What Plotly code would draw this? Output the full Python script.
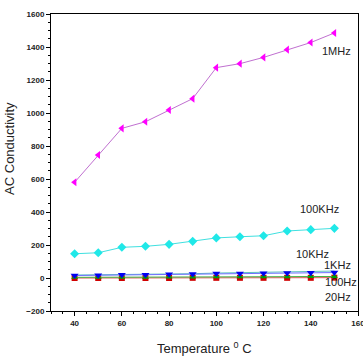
import plotly.graph_objects as go

temps = [40, 50, 60, 70, 80, 90, 100, 110, 120, 130, 140, 150]
s_1mhz = [580, 745, 907, 947, 1018, 1087, 1275, 1299, 1337, 1384, 1427, 1485]
s_100khz = [147, 153, 186, 192, 204, 222, 243, 250, 256, 285, 293, 301]
s_10khz = [15, 17, 20, 20, 22, 24, 27, 28, 29, 30, 32, 33]
s_1khz = [18, 19, 21, 22, 24, 26, 30, 32, 34, 36, 38, 42]
s_100hz = [4, 4, 5, 5, 6, 6, 7, 7, 8, 8, 9, 9]
s_20hz = [0, 0, 0, 0, 0, 1, 1, 1, 1, 1, 1, 2]

labels = ["1MHz", "100KHz", "10KHz", "1KHz", "100Hz", "20Hz"]
label_x = [151, 143.8, 140.8, 151.5, 153, 151.5]
label_y = [1375, 418, 145, 79, -22, -117]

fig = go.Figure()
fig.add_trace(go.Scatter(x=temps, y=s_20hz, mode="lines+markers",
                         line=dict(color="#e05050", width=1),
                         marker=dict(symbol="square", size=6, color="#d00000")))
fig.add_trace(go.Scatter(x=temps, y=s_100hz, mode="lines+markers",
                         line=dict(color="#40b040", width=1),
                         marker=dict(symbol="triangle-up", size=6, color="#00a000")))
fig.add_trace(go.Scatter(x=temps, y=s_1khz, mode="lines",
                         line=dict(color="#60c0c0", width=1)))
fig.add_trace(go.Scatter(x=temps, y=s_10khz, mode="lines+markers",
                         line=dict(color="#7070ff", width=1),
                         marker=dict(symbol="triangle-down", size=7, color="#0000ee")))
fig.add_trace(go.Scatter(x=temps, y=s_100khz, mode="lines+markers",
                         line=dict(color="#40e0e0", width=1),
                         marker=dict(symbol="diamond", size=7, color="#20e8e8")))
fig.add_trace(go.Scatter(x=temps, y=s_1mhz, mode="lines+markers",
                         line=dict(color="#c070d0", width=1),
                         marker=dict(symbol="triangle-left", size=7, color="#ff00ff")))

for t, lx, ly in zip(labels, label_x, label_y):
    fig.add_annotation(x=lx, y=ly, text=t, showarrow=False,
                       font=dict(family="Arial", size=11, color="#222"))

fig.add_annotation(xref="paper", yref="paper", x=0.5, y=-0.1246, text="Temperature <sup>0</sup> C",
                   showarrow=False, xanchor="center", yanchor="middle",
                   font=dict(family="Arial", size=13, color="#222"))
fig.add_annotation(xref="paper", yref="paper", x=-0.1336, y=0.549, text="AC Conductivity",
                   showarrow=False, xanchor="center", yanchor="middle", textangle=-90,
                   font=dict(family="Arial", size=13, color="#222"))

axis_common = dict(showline=True, linecolor="black", linewidth=1, mirror=True,
                   ticks="outside", ticklen=4, tickcolor="black", showgrid=False,
                   zeroline=False, automargin=False, ticklabeloverflow="allow",
                   tickfont=dict(family="Arial", size=8, color="#222", weight="bold"),
                   minor=dict(ticks="outside", ticklen=2, tickcolor="black"))

fig.update_xaxes(range=[30, 160], dtick=20, tick0=0, **axis_common)
fig.update_yaxes(range=[-200, 1600], dtick=200, tick0=0, **axis_common)

fig.update_layout(width=363, height=360, margin=dict(l=51, r=5, t=14, b=49),
                  plot_bgcolor="white", paper_bgcolor="white", showlegend=False)

fig.write_html("out.html", config={"displayModeBar": False},
               post_script="document.body.style.margin='0';document.body.style.overflow='hidden';")
